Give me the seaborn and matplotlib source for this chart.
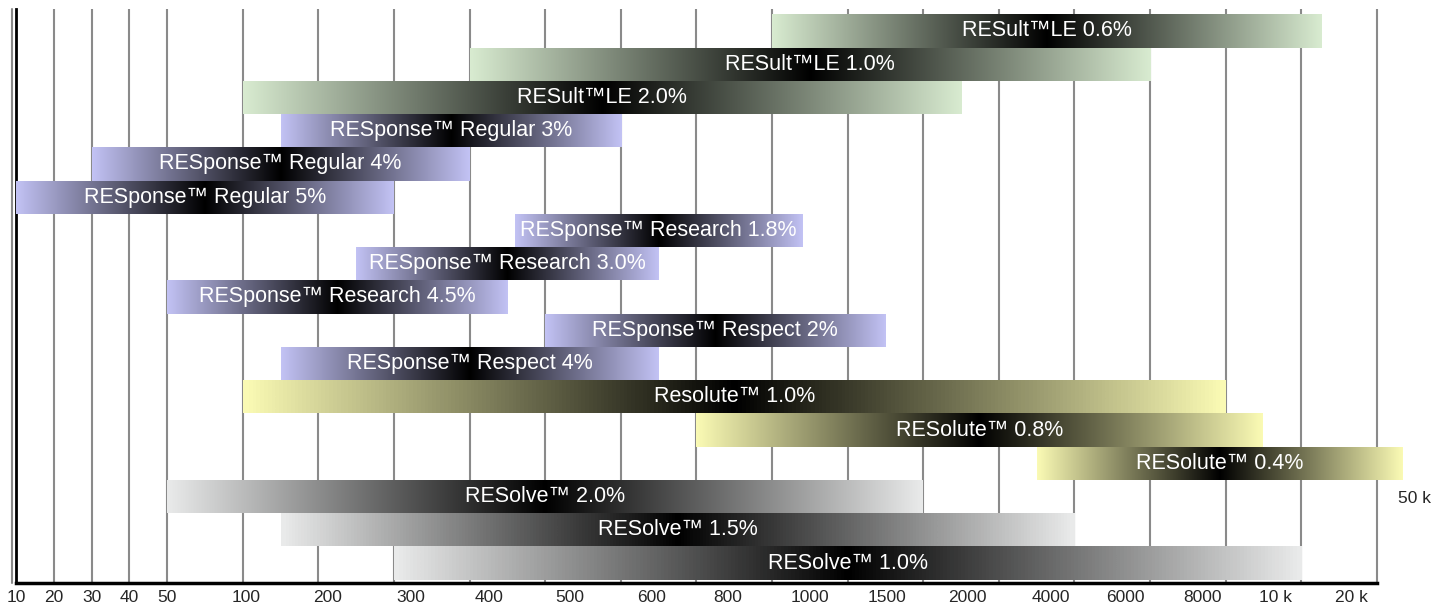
import numpy as np
import pandas as pd
import matplotlib.pyplot as plt
from matplotlib.colors import LinearSegmentedColormap
import seaborn as sns

# frequency axis (uneven, ordinal like the original sheet)
tick_labels = ["10", "20", "30", "40", "50", "100", "200", "300", "400", "500", "600",
               "800", "1000", "1500", "2000", "4000", "6000", "8000", "10 k", "20 k", "50 k"]
tick_values = [10, 20, 30, 40, 50, 100, 200, 300, 400, 500, 600,
               800, 1000, 1500, 2000, 4000, 6000, 8000, 10000, 20000, 50000]
grid_pos = [0, 0.5, 1, 1.5, 2, 3, 4, 5, 6, 7, 8, 9, 10, 11, 12, 13, 14, 15, 16, 17, 18]
# where the label row of the original sits (it drifts right of the grid)
label_pos = [0, 0.5, 1, 1.5, 2, 3.04, 4.12, 5.22, 6.26, 7.32, 8.41, 9.42, 10.5,
             11.52, 12.59, 13.69, 14.68, 15.69, 16.66, 17.66]

products = ["RESult™LE 0.6%", "RESult™LE 1.0%", "RESult™LE 2.0%",
            "RESponse™ Regular 3%", "RESponse™ Regular 4%", "RESponse™ Regular 5%",
            "RESponse™ Research 1.8%", "RESponse™ Research 3.0%", "RESponse™ Research 4.5%",
            "RESponse™ Respect 2%", "RESponse™ Respect 4%",
            "Resolute™ 1.0%", "RESolute™ 0.8%", "RESolute™ 0.4%",
            "RESolve™ 2.0%", "RESolve™ 1.5%", "RESolve™ 1.0%"]
family = ["RESult"] * 3 + ["RESponse"] * 8 + ["RESolute"] * 3 + ["RESolve"] * 3
range_low = [1000, 400, 100, 150, 30, 10, 460, 250, 50, 500, 150, 100, 800, 5000, 50, 150, 300]
range_high = [28000, 8000, 3000, 600, 400, 300, 1200, 700, 450, 1750, 700,
              10000, 15000, 60000, 2000, 6000, 20000]

light = {"RESult": "#d8ebd0", "RESponse": "#c2c2f4", "RESolute": "#fafab4", "RESolve": "#e9eaea"}


def to_pos(v):
    # piecewise linear between the axis values, extended past 50 k
    v = np.asarray(v, dtype=float)
    p = np.interp(v, tick_values, grid_pos)
    over = v > tick_values[-1]
    p[over] = grid_pos[-1] + (v[over] - tick_values[-1]) / (tick_values[-1] - tick_values[-2])
    return p


lo = to_pos(range_low)
hi = to_pos(range_high)
df = pd.DataFrame({"product": products, "family": family, "start": lo, "span": hi - lo})

sns.set_style("white")
plt.rcParams["font.family"] = ["Liberation Sans", "DejaVu Sans"]

fig = plt.figure(figsize=(14.34, 6.07), dpi=100)
W, H = 1434, 607
x_lim = (0, 18.4)
px_per_unit = 75.6
ax = fig.add_axes([16 / W, 24 / H, px_per_unit * x_lim[1] / W, 574 / H])

sns.barplot(data=df, x="span", y="product", left=df["start"].values, orient="h",
            width=1.0, errorbar=None, color="white", linewidth=0, ax=ax, zorder=2)

grad = np.linspace(0, 1, 256)[None, :]
for patch, fam, name in zip(ax.patches, df["family"], df["product"]):
    x0, y0 = patch.get_x(), patch.get_y()
    w, h = patch.get_width(), patch.get_height()
    cmap = LinearSegmentedColormap.from_list(fam, [light[fam], "#000000", light[fam]])
    im = ax.imshow(grad, cmap=cmap, aspect="auto", extent=(x0, x0 + w, y0 + h, y0),
                   interpolation="bilinear", zorder=3)
    im.set_clip_path(patch)
    patch.set_facecolor("none")
    ax.text(x0 + w / 2, y0 + h / 2, name, ha="center", va="center",
            color="white", fontsize=15.5, zorder=4)

ax.vlines(grid_pos[1:], -0.66, 16.6, color="#8a8a8a", lw=1.5, zorder=1)
ax.axvline(-0.05, color="#8a8a8a", lw=1.5, clip_on=False, zorder=1)

ax.set_xlim(*x_lim)
ax.set_ylim(16.6, -0.66)
ax.set_yticks([])
ax.set_ylabel("")
ax.set_xlabel("")
ax.set_xticks(label_pos)
ax.set_xticklabels(tick_labels[:-1], fontsize=12.5)
ax.tick_params(axis="x", length=0, pad=5)
ax.text(18.5, 14.05, tick_labels[-1], ha="center", va="center", fontsize=12.5)

for side in ["top", "right"]:
    ax.spines[side].set_visible(False)
ax.spines["left"].set_color("black")
ax.spines["left"].set_linewidth(2)
ax.spines["bottom"].set_color("black")
ax.spines["bottom"].set_linewidth(2.5)
ax.spines["bottom"].set_bounds(0, 18)

fig.savefig("out.png", dpi=100)
